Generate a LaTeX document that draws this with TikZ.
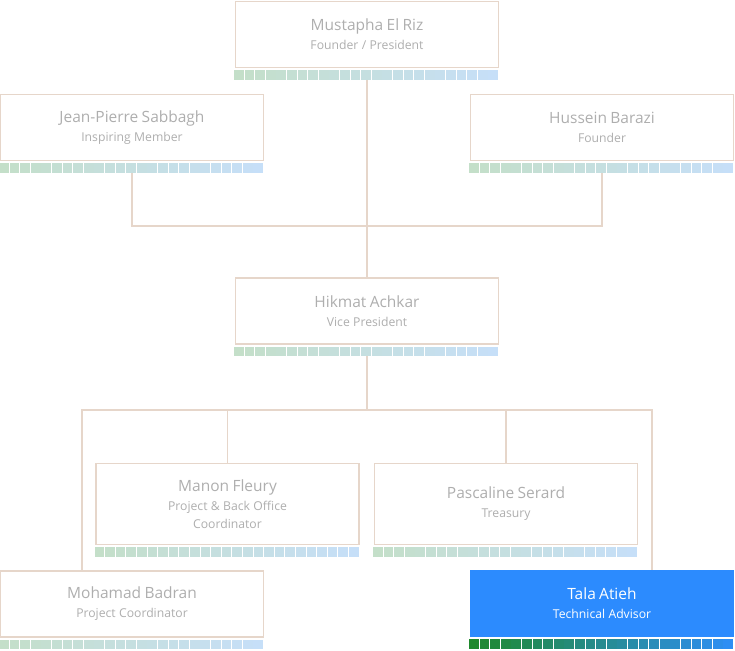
\documentclass[tikz,border=0pt]{standalone}
\usepackage{fontspec}
\setmainfont{Open Sans}
\usetikzlibrary{positioning}

\definecolor{boxline}{HTML}{E6D6CA}
\definecolor{boxtext}{HTML}{AEAEAE}
\definecolor{greenA}{HTML}{C4DFC9}
\definecolor{blueA}{HTML}{C6DFF8}
\definecolor{greenB}{HTML}{1F892D}
\definecolor{blueB}{HTML}{2E8EF3}
\definecolor{active}{HTML}{2C8BFE}

\newcommand{\member}[2]{{\fontsize{15.5}{19}\selectfont #1\par}\vspace{1pt}{\fontsize{12.2}{18}\selectfont #2\par}}
\newcommand{\memberstrip}[3]{%
  \foreach \i in {0,...,24} {
    \pgfmathsetmacro\p{100*\i/24}
    \fill[#3!\p!#2] ([xshift=\i*10.6pt-0.75pt, yshift=-2pt]#1.south west) rectangle ++(9.7,9.6);
  }
  \coordinate (#1-s) at ([yshift=-11.6pt]#1.south);
}

\begin{document}
\begin{tikzpicture}[x=1pt, y=-1pt,
    member/.style={draw=boxline, line width=1.5pt, text=boxtext, align=center,
      text width=255pt, minimum width=263pt, minimum height=66pt, inner sep=0pt},
    link/.style={draw=boxline, line width=1.5pt}]
  \useasboundingbox (0,0) rectangle (735,650);

  \node[member] (mer) at (367,34.5) {\member{Mustapha El Riz}{Founder / President}};
  \node[member] (jps) at (132,127.5) {\member{Jean-Pierre Sabbagh}{Inspiring Member}};
  \node[member] (hb) at (602,127.5) {\member{Hussein Barazi}{Founder}};
  \node[member] (ha) at (367,311) {\member{Hikmat Achkar}{Vice President}};
  \node[member, minimum height=81pt] (mf) at (227.5,504) {\member{Manon Fleury}{Project \& Back Office\\Coordinator}};
  \node[member, minimum height=81pt] (ps) at (506,504) {\member{Pascaline Serard}{Treasury}};
  \node[member] (mb) at (132,604) {\member{Mohamad Badran}{Project Coordinator}};
  \node[member, draw=active, fill=active, text=white] (ta) at (602,603.5) {\member{Tala Atieh}{Technical Advisor}};

  \memberstrip{mer}{greenA}{blueA}
  \memberstrip{jps}{greenA}{blueA}
  \memberstrip{hb}{greenA}{blueA}
  \memberstrip{ha}{greenA}{blueA}
  \memberstrip{mf}{greenA}{blueA}
  \memberstrip{ps}{greenA}{blueA}
  \memberstrip{mb}{greenA}{blueA}
  \memberstrip{ta}{greenB}{blueB}

  \coordinate (bus) at (367,410);
  \draw[link] (mer-s) -- (ha.north);
  \draw[link] (jps-s) -- ++(0,53) -| (hb-s);
  \draw[link] (ha-s) -- (bus);
  \draw[link] ([xshift=-50pt]mb.north) |- (bus) -| ([xshift=50pt]ta.north);
  \draw[link] (mf.north) -- (mf.north |- bus);
  \draw[link] (ps.north) -- (ps.north |- bus);
\end{tikzpicture}
\end{document}
